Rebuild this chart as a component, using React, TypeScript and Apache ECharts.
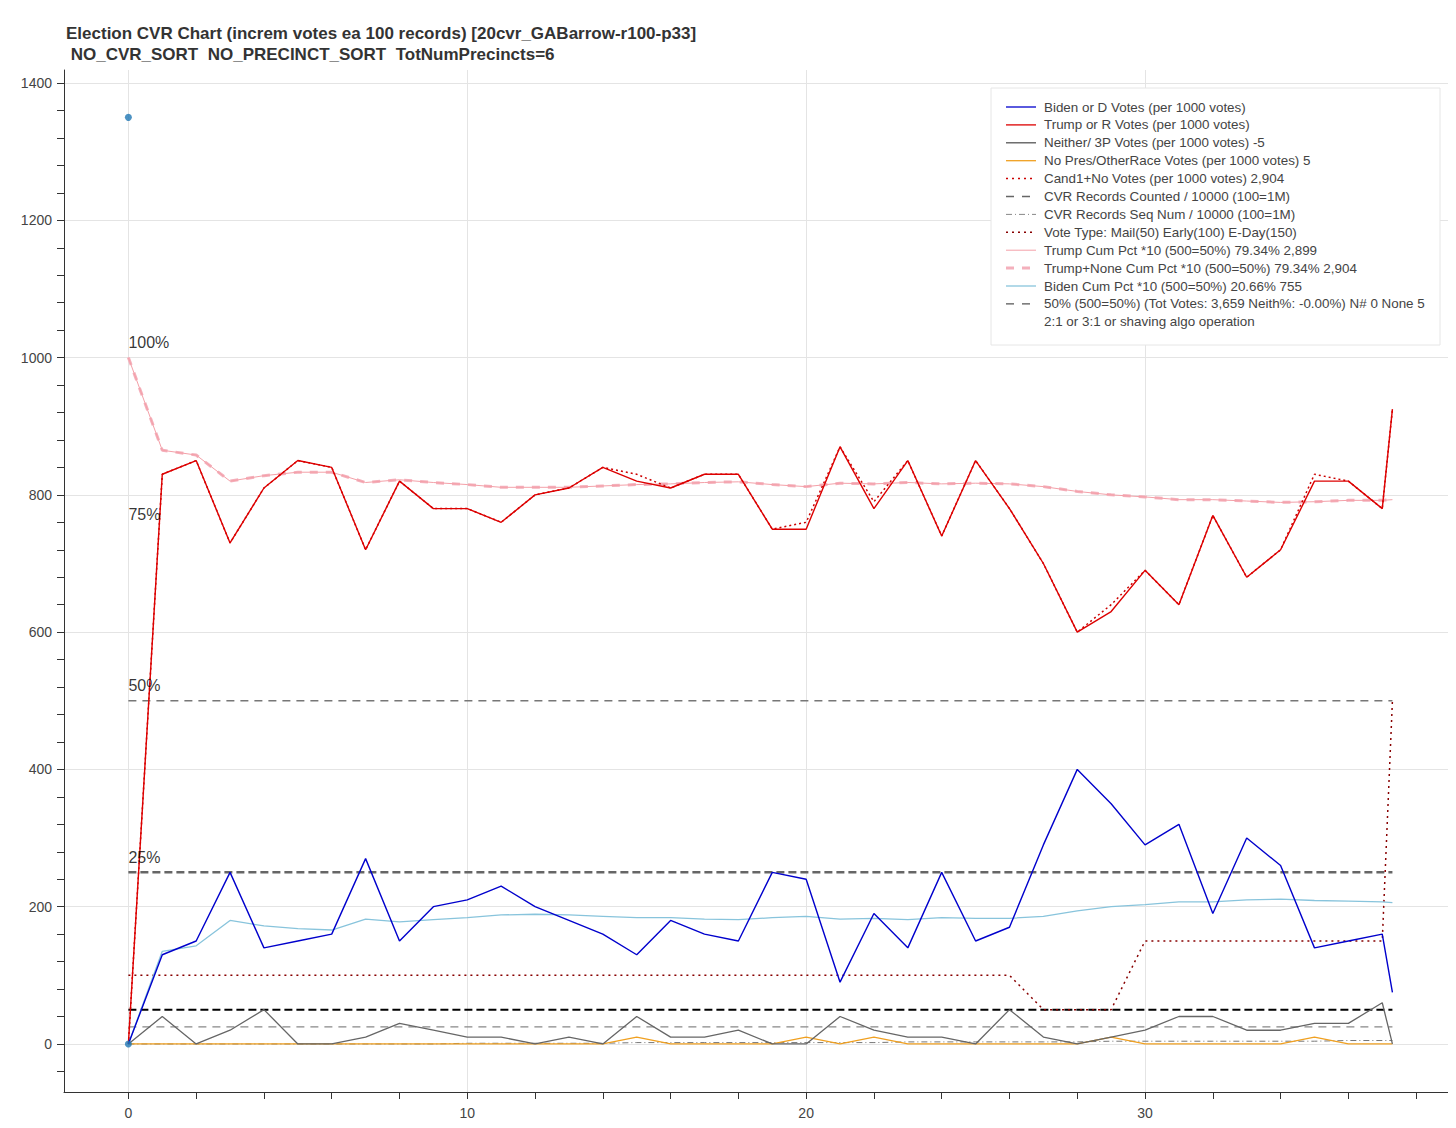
import React, { useEffect, useRef } from 'react';
import * as echarts from 'echarts';

// x positions of the 100-record chunks (last one is a partial chunk)
const xs = [0,1,2,3,4,5,6,7,8,9,10,11,12,13,14,15,16,17,18,19,20,21,22,23,24,25,26,27,28,29,30,31,32,33,34,35,36,37,37.3];

const biden = [0,130,150,250,140,150,160,270,150,200,210,230,200,180,160,130,180,160,150,250,240,90,190,140,250,150,170,290,400,350,290,320,190,300,260,140,150,160,75];
const trump = [0,830,850,730,810,850,840,720,820,780,780,760,800,810,840,820,810,830,830,750,750,870,780,850,740,850,780,700,600,630,690,640,770,680,720,820,820,780,925];
const cand1No = [0,830,850,730,810,850,840,720,820,780,780,760,800,810,840,830,810,830,830,750,760,870,790,850,740,850,780,700,600,640,690,640,770,680,720,830,820,780,925];
const neither = [0,40,0,20,50,0,0,10,30,20,10,10,0,10,0,40,10,10,20,0,0,40,20,10,10,0,50,10,0,10,20,40,40,20,20,30,30,60,0];
const noPres = [0,0,0,0,0,0,0,0,0,0,0,0,0,0,0,10,0,0,0,0,10,0,10,0,0,0,0,0,0,10,0,0,0,0,0,10,0,0,0];
const voteType = [100,100,100,100,100,100,100,100,100,100,100,100,100,100,100,100,100,100,100,100,100,100,100,100,100,100,100,50,50,50,150,150,150,150,150,150,150,150,500];
const seqNum = [0,0,0,0,0,0,0,0,0,0,1,1,1,1,1,2,2,2,2,2,2,2,2,3,3,3,3,3,3,4,4,4,4,4,4,4,5,5,5];
const trumpCum = [1000,865,858,820,828,833,833,818,822,818,815,811,811,811,813,815,816,818,819,815,812,817,816,818,816,817,816,812,805,800,797,793,793,791,789,790,792,792,793];
const bidenCum = [0,135,143,180,172,168,166,182,178,181,184,188,189,188,186,184,184,182,181,184,186,182,183,181,184,183,183,186,194,200,203,207,207,210,211,209,208,207,206];

const xLabels = [0, 10, 20, 30];
const xTicks = [0,2,4,6,8,10,12,14,16,18,20,22,24,26,28,30,32,34,36,38];
const yLabels = [0, 200, 400, 600, 800, 1000, 1200, 1400];
const yTicks = [-40,0,40,80,120,160,200,240,280,320,360,400,440,480,520,560,600,640,680,720,760,800,840,880,920,960,1000,1040,1080,1120,1160,1200,1240,1280,1320,1360,1400];

const pctLabels = ['100%', '75%', '50%', '25%'];
const pctValues = [1000, 750, 500, 250];

const legendItems = [
  { text: 'Biden or D Votes (per 1000 votes)', color: '#0000cc', dash: null, w: 1.3 },
  { text: 'Trump or R Votes (per 1000 votes)', color: '#dd0000', dash: null, w: 1.3 },
  { text: 'Neither/ 3P Votes (per 1000 votes) -5', color: '#555', dash: null, w: 1.3 },
  { text: 'No Pres/OtherRace Votes (per 1000 votes) 5', color: '#f0a020', dash: null, w: 1.3 },
  { text: 'Cand1+No Votes (per 1000 votes) 2,904', color: '#cc0000', dash: [2, 4], w: 1.5 },
  { text: 'CVR Records Counted / 10000 (100=1M)', color: '#666', dash: [8, 8], w: 1.3 },
  { text: 'CVR Records Seq Num / 10000 (100=1M)', color: '#888', dash: [6, 3, 1, 3], w: 1 },
  { text: 'Vote Type: Mail(50) Early(100) E-Day(150)', color: '#880000', dash: [2, 4], w: 1.5 },
  { text: 'Trump Cum Pct *10 (500=50%) 79.34% 2,899', color: '#f4a0a8', dash: null, w: 1 },
  { text: 'Trump+None Cum Pct *10 (500=50%) 79.34% 2,904', color: '#f4b0bc', dash: [8, 8], w: 3 },
  { text: 'Biden Cum Pct *10 (500=50%) 20.66% 755', color: '#88c4dc', dash: null, w: 1.3 },
  { text: '50% (500=50%) (Tot Votes: 3,659 Neith%: -0.00%) N# 0 None 5', color: '#555', dash: [8, 8], w: 1.3 },
];

const pair = (ys: number[]) => xs.map((x, i) => [x, ys[i]]);
const flat = (v: number) => [[0, v], [37.3, v]];

const App: React.FC = () => {
  const chartRef = useRef<HTMLDivElement>(null);

  useEffect(() => {
    if (!chartRef.current) return;
    const chart = echarts.init(chartRef.current, null, { renderer: 'svg' });

    const line = (name: string, data: any, color: string, width: number, type: any = 'solid', z = 2) => ({
      name, type: 'line', data, showSymbol: false, symbol: 'none', z,
      lineStyle: { color, width, type },
    });

    // page offset of the div (body margin)
    const o = 8;
    const legendChildren: any[] = [
      { type: 'rect', z: 100, shape: { x: 991 - o, y: 88 - o, width: 449, height: 257 }, style: { fill: '#fff', stroke: '#e6e6e6', lineWidth: 1 } },
    ];
    legendItems.forEach((it, i) => {
      const y = 107 - o + i * 17.9;
      legendChildren.push({
        type: 'line', z: 101, shape: { x1: 1006 - o, y1: y, x2: 1036 - o, y2: y },
        style: { stroke: it.color, lineWidth: it.w, lineDash: it.dash || undefined },
      });
      legendChildren.push({
        type: 'text', z: 101, x: 1044 - o, y, style: { text: it.text, fill: '#444', font: '13.4px Arial', textVerticalAlign: 'middle' },
      });
    });
    legendChildren.push({
      type: 'text', z: 101, x: 1044 - o, y: 107 - o + 12 * 17.9,
      style: { text: '2:1 or 3:1 or shaving algo operation', fill: '#444', font: '13.4px Arial', textVerticalAlign: 'middle' },
    });

    const axisCommon = {
      axisLine: { show: true, onZero: false, lineStyle: { color: '#333' } },
      splitLine: { show: false },
    };

    chart.setOption({
      animation: false,
      backgroundColor: '#fff',
      textStyle: { fontFamily: 'Arial' },
      title: {
        text: 'Election CVR Chart (increm votes ea 100 records) [20cvr_GABarrow-r100-p33]\n NO_CVR_SORT  NO_PRECINCT_SORT  TotNumPrecincts=6',
        left: 53, top: 10,
        textStyle: { fontSize: 17, fontWeight: 'bold', color: '#333', lineHeight: 21 },
      },
      grid: { left: 56, right: 0, top: 62, bottom: 25 },
      xAxis: {
        type: 'value', min: -1.9, max: 38.94, ...axisCommon,
        axisLabel: { color: '#444', fontSize: 14, margin: 14, customValues: xLabels },
        axisTick: { show: true, length: 7, customValues: xTicks, lineStyle: { color: '#333' } },
      },
      yAxis: {
        type: 'value', min: -70, max: 1419, ...axisCommon,
        axisLabel: { color: '#444', fontSize: 14, margin: 12, customValues: yLabels, formatter: (v: number) => String(v) },
        axisTick: { show: true, length: 7, customValues: yTicks, lineStyle: { color: '#333' } },
      },
      graphic: [{ type: 'group', z: 100, children: legendChildren }],
      series: [
        {
          name: 'grid', type: 'line', data: [], silent: true, z: 0,
          markLine: {
            symbol: 'none', silent: true, label: { show: false }, z: 0,
            lineStyle: { color: '#e4e4e4', type: 'solid', width: 1 },
            data: [...xLabels.map((v) => ({ xAxis: v })), ...yLabels.map((v) => ({ yAxis: v }))],
          },
        },
        line('50%', flat(500), '#777', 1.3, [8, 6]),
        line('25%', flat(250), '#666', 2.5, [8, 4]),
        line('black50', flat(50), '#000', 2, [8, 4]),
        line('CVR Records Counted', flat(25), '#888', 1.2, [8, 6]),
        line('CVR Seq Num', pair(seqNum), '#777', 1, [6, 3, 1, 3]),
        line('Vote Type', pair(voteType), '#880000', 1.5, [2, 4]),
        line('Trump+None Cum', pair(trumpCum), '#f4b0bc', 3, [8, 8]),
        line('Trump Cum', pair(trumpCum), '#f4a0a8', 1),
        line('Biden Cum', pair(bidenCum), '#88c4dc', 1.3),
        line('No Pres', pair(noPres), '#f0a020', 1.3),
        line('Neither', pair(neither), '#666', 1.3),
        line('Cand1+No', pair(cand1No), '#cc0000', 1.5, [2, 3]),
        line('Trump', pair(trump), '#dd0000', 1.4, 'solid', 3),
        line('Biden', pair(biden), '#0000cc', 1.4, 'solid', 3),
        {
          name: 'points', type: 'scatter', z: 5, symbolSize: 7,
          itemStyle: { color: '#1f77b4' },
          data: [[0, 1350], [0, 0]],
        },
        {
          name: 'pct', type: 'scatter', symbolSize: 0, z: 6,
          data: pctValues.map((v, i) => ({ value: [0, v], name: pctLabels[i] })),
          label: {
            show: true, position: 'top', align: 'left', offset: [0, -2], color: '#000', fontSize: 16,
            formatter: (p: any) => p.name,
          },
        },
      ],
    });

    return () => chart.dispose();
  }, []);

  return <div ref={chartRef} style={{ width: '1440px', height: '1112px' }} />;
};

export default App;
